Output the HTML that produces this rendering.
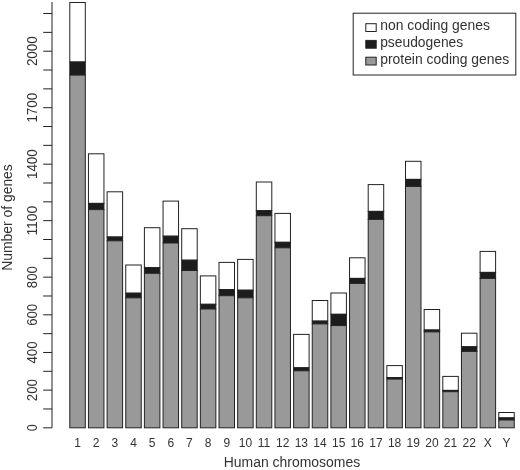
<!DOCTYPE html><html><head><meta charset="utf-8"><title>Genes per chromosome</title><style>html,body{margin:0;padding:0;background:#fff}svg{display:block;will-change:transform;opacity:.999}text{font-family:"Liberation Sans",Arial,Helvetica,sans-serif;fill:#333}</style></head><body>
<svg width="520" height="470" viewBox="0 0 520 470">
<rect width="520" height="470" fill="#fff"/>
<g stroke="#222" stroke-width="1" fill="none">
<line x1="52.0" y1="2.00" x2="52.0" y2="427.80"/>
<line x1="43.2" y1="427.80" x2="52.0" y2="427.80"/>
<line x1="43.2" y1="408.97" x2="52.0" y2="408.97"/>
<line x1="43.2" y1="390.14" x2="52.0" y2="390.14"/>
<line x1="43.2" y1="371.31" x2="52.0" y2="371.31"/>
<line x1="43.2" y1="352.48" x2="52.0" y2="352.48"/>
<line x1="43.2" y1="333.65" x2="52.0" y2="333.65"/>
<line x1="43.2" y1="314.82" x2="52.0" y2="314.82"/>
<line x1="43.2" y1="295.99" x2="52.0" y2="295.99"/>
<line x1="43.2" y1="277.16" x2="52.0" y2="277.16"/>
<line x1="43.2" y1="258.33" x2="52.0" y2="258.33"/>
<line x1="43.2" y1="239.50" x2="52.0" y2="239.50"/>
<line x1="43.2" y1="220.67" x2="52.0" y2="220.67"/>
<line x1="43.2" y1="201.84" x2="52.0" y2="201.84"/>
<line x1="43.2" y1="183.01" x2="52.0" y2="183.01"/>
<line x1="43.2" y1="164.18" x2="52.0" y2="164.18"/>
<line x1="43.2" y1="145.35" x2="52.0" y2="145.35"/>
<line x1="43.2" y1="126.52" x2="52.0" y2="126.52"/>
<line x1="43.2" y1="107.69" x2="52.0" y2="107.69"/>
<line x1="43.2" y1="88.86" x2="52.0" y2="88.86"/>
<line x1="43.2" y1="70.03" x2="52.0" y2="70.03"/>
<line x1="43.2" y1="51.20" x2="52.0" y2="51.20"/>
<line x1="43.2" y1="32.37" x2="52.0" y2="32.37"/>
<line x1="43.2" y1="13.54" x2="52.0" y2="13.54"/>
</g>
<text transform="translate(36.8,427.80) rotate(-90)" x="-3.50" textLength="7.0" lengthAdjust="spacingAndGlyphs" font-size="14">0</text>
<text transform="translate(36.8,390.14) rotate(-90)" x="-11.00" textLength="22.0" lengthAdjust="spacingAndGlyphs" font-size="14">200</text>
<text transform="translate(36.8,352.48) rotate(-90)" x="-11.00" textLength="22.0" lengthAdjust="spacingAndGlyphs" font-size="14">400</text>
<text transform="translate(36.8,314.82) rotate(-90)" x="-11.00" textLength="22.0" lengthAdjust="spacingAndGlyphs" font-size="14">600</text>
<text transform="translate(36.8,277.16) rotate(-90)" x="-11.00" textLength="22.0" lengthAdjust="spacingAndGlyphs" font-size="14">800</text>
<text transform="translate(36.8,220.67) rotate(-90)" x="-14.90" textLength="29.8" lengthAdjust="spacingAndGlyphs" font-size="14">1100</text>
<text transform="translate(36.8,164.18) rotate(-90)" x="-14.90" textLength="29.8" lengthAdjust="spacingAndGlyphs" font-size="14">1400</text>
<text transform="translate(36.8,107.69) rotate(-90)" x="-14.90" textLength="29.8" lengthAdjust="spacingAndGlyphs" font-size="14">1700</text>
<text transform="translate(36.8,51.20) rotate(-90)" x="-14.90" textLength="29.8" lengthAdjust="spacingAndGlyphs" font-size="14">2000</text>
<text transform="translate(12.3,270.8) rotate(-90)" textLength="106.6" lengthAdjust="spacingAndGlyphs" font-size="14">Number of genes</text>
<text x="223.8" y="466.6" textLength="136.4" lengthAdjust="spacingAndGlyphs" font-size="14">Human chromosomes</text>
<g stroke="#222" stroke-width="1">
<rect x="69.80" y="2.50" width="15.50" height="59.50" fill="#fff"/>
<rect x="69.80" y="62.00" width="15.50" height="13.10" fill="#1c1c1c"/>
<rect x="69.80" y="75.10" width="15.50" height="352.70" fill="#999"/>
</g>
<text x="77.55" y="447.2" text-anchor="middle" font-size="12">1</text>
<g stroke="#222" stroke-width="1">
<rect x="88.45" y="153.80" width="15.50" height="49.60" fill="#fff"/>
<rect x="88.45" y="203.40" width="15.50" height="6.20" fill="#1c1c1c"/>
<rect x="88.45" y="209.60" width="15.50" height="218.20" fill="#999"/>
</g>
<text x="96.20" y="447.2" text-anchor="middle" font-size="12">2</text>
<g stroke="#222" stroke-width="1">
<rect x="107.10" y="191.80" width="15.50" height="45.20" fill="#fff"/>
<rect x="107.10" y="237.00" width="15.50" height="3.80" fill="#1c1c1c"/>
<rect x="107.10" y="240.80" width="15.50" height="187.00" fill="#999"/>
</g>
<text x="114.85" y="447.2" text-anchor="middle" font-size="12">3</text>
<g stroke="#222" stroke-width="1">
<rect x="125.75" y="265.00" width="15.50" height="28.20" fill="#fff"/>
<rect x="125.75" y="293.20" width="15.50" height="4.60" fill="#1c1c1c"/>
<rect x="125.75" y="297.80" width="15.50" height="130.00" fill="#999"/>
</g>
<text x="133.50" y="447.2" text-anchor="middle" font-size="12">4</text>
<g stroke="#222" stroke-width="1">
<rect x="144.40" y="227.70" width="15.50" height="40.00" fill="#fff"/>
<rect x="144.40" y="267.70" width="15.50" height="5.60" fill="#1c1c1c"/>
<rect x="144.40" y="273.30" width="15.50" height="154.50" fill="#999"/>
</g>
<text x="152.15" y="447.2" text-anchor="middle" font-size="12">5</text>
<g stroke="#222" stroke-width="1">
<rect x="163.05" y="201.10" width="15.50" height="35.10" fill="#fff"/>
<rect x="163.05" y="236.20" width="15.50" height="6.80" fill="#1c1c1c"/>
<rect x="163.05" y="243.00" width="15.50" height="184.80" fill="#999"/>
</g>
<text x="170.80" y="447.2" text-anchor="middle" font-size="12">6</text>
<g stroke="#222" stroke-width="1">
<rect x="181.70" y="228.70" width="15.50" height="31.50" fill="#fff"/>
<rect x="181.70" y="260.20" width="15.50" height="10.30" fill="#1c1c1c"/>
<rect x="181.70" y="270.50" width="15.50" height="157.30" fill="#999"/>
</g>
<text x="189.45" y="447.2" text-anchor="middle" font-size="12">7</text>
<g stroke="#222" stroke-width="1">
<rect x="200.35" y="275.90" width="15.50" height="28.40" fill="#fff"/>
<rect x="200.35" y="304.30" width="15.50" height="4.70" fill="#1c1c1c"/>
<rect x="200.35" y="309.00" width="15.50" height="118.80" fill="#999"/>
</g>
<text x="208.10" y="447.2" text-anchor="middle" font-size="12">8</text>
<g stroke="#222" stroke-width="1">
<rect x="219.00" y="262.40" width="15.50" height="27.10" fill="#fff"/>
<rect x="219.00" y="289.50" width="15.50" height="6.20" fill="#1c1c1c"/>
<rect x="219.00" y="295.70" width="15.50" height="132.10" fill="#999"/>
</g>
<text x="226.75" y="447.2" text-anchor="middle" font-size="12">9</text>
<g stroke="#222" stroke-width="1">
<rect x="237.65" y="259.40" width="15.50" height="30.80" fill="#fff"/>
<rect x="237.65" y="290.20" width="15.50" height="7.60" fill="#1c1c1c"/>
<rect x="237.65" y="297.80" width="15.50" height="130.00" fill="#999"/>
</g>
<text x="245.40" y="447.2" text-anchor="middle" font-size="12">10</text>
<g stroke="#222" stroke-width="1">
<rect x="256.30" y="182.00" width="15.50" height="28.70" fill="#fff"/>
<rect x="256.30" y="210.70" width="15.50" height="5.00" fill="#1c1c1c"/>
<rect x="256.30" y="215.70" width="15.50" height="212.10" fill="#999"/>
</g>
<text x="264.05" y="447.2" text-anchor="middle" font-size="12">11</text>
<g stroke="#222" stroke-width="1">
<rect x="274.95" y="213.40" width="15.50" height="28.90" fill="#fff"/>
<rect x="274.95" y="242.30" width="15.50" height="5.50" fill="#1c1c1c"/>
<rect x="274.95" y="247.80" width="15.50" height="180.00" fill="#999"/>
</g>
<text x="282.70" y="447.2" text-anchor="middle" font-size="12">12</text>
<g stroke="#222" stroke-width="1">
<rect x="293.60" y="334.40" width="15.50" height="33.40" fill="#fff"/>
<rect x="293.60" y="367.80" width="15.50" height="3.00" fill="#1c1c1c"/>
<rect x="293.60" y="370.80" width="15.50" height="57.00" fill="#999"/>
</g>
<text x="301.35" y="447.2" text-anchor="middle" font-size="12">13</text>
<g stroke="#222" stroke-width="1">
<rect x="312.25" y="300.50" width="15.50" height="20.60" fill="#fff"/>
<rect x="312.25" y="321.10" width="15.50" height="2.80" fill="#1c1c1c"/>
<rect x="312.25" y="323.90" width="15.50" height="103.90" fill="#999"/>
</g>
<text x="320.00" y="447.2" text-anchor="middle" font-size="12">14</text>
<g stroke="#222" stroke-width="1">
<rect x="330.90" y="293.00" width="15.50" height="21.30" fill="#fff"/>
<rect x="330.90" y="314.30" width="15.50" height="11.30" fill="#1c1c1c"/>
<rect x="330.90" y="325.60" width="15.50" height="102.20" fill="#999"/>
</g>
<text x="338.65" y="447.2" text-anchor="middle" font-size="12">15</text>
<g stroke="#222" stroke-width="1">
<rect x="349.55" y="257.80" width="15.50" height="20.60" fill="#fff"/>
<rect x="349.55" y="278.40" width="15.50" height="5.00" fill="#1c1c1c"/>
<rect x="349.55" y="283.40" width="15.50" height="144.40" fill="#999"/>
</g>
<text x="357.30" y="447.2" text-anchor="middle" font-size="12">16</text>
<g stroke="#222" stroke-width="1">
<rect x="368.20" y="184.60" width="15.50" height="26.80" fill="#fff"/>
<rect x="368.20" y="211.40" width="15.50" height="8.00" fill="#1c1c1c"/>
<rect x="368.20" y="219.40" width="15.50" height="208.40" fill="#999"/>
</g>
<text x="375.95" y="447.2" text-anchor="middle" font-size="12">17</text>
<g stroke="#222" stroke-width="1">
<rect x="386.85" y="365.60" width="15.50" height="11.90" fill="#fff"/>
<rect x="386.85" y="377.50" width="15.50" height="1.60" fill="#1c1c1c"/>
<rect x="386.85" y="379.10" width="15.50" height="48.70" fill="#999"/>
</g>
<text x="394.60" y="447.2" text-anchor="middle" font-size="12">18</text>
<g stroke="#222" stroke-width="1">
<rect x="405.50" y="161.30" width="15.50" height="18.10" fill="#fff"/>
<rect x="405.50" y="179.40" width="15.50" height="7.00" fill="#1c1c1c"/>
<rect x="405.50" y="186.40" width="15.50" height="241.40" fill="#999"/>
</g>
<text x="413.25" y="447.2" text-anchor="middle" font-size="12">19</text>
<g stroke="#222" stroke-width="1">
<rect x="424.15" y="309.50" width="15.50" height="20.50" fill="#fff"/>
<rect x="424.15" y="330.00" width="15.50" height="1.90" fill="#1c1c1c"/>
<rect x="424.15" y="331.90" width="15.50" height="95.90" fill="#999"/>
</g>
<text x="431.90" y="447.2" text-anchor="middle" font-size="12">20</text>
<g stroke="#222" stroke-width="1">
<rect x="442.80" y="376.40" width="15.50" height="14.00" fill="#fff"/>
<rect x="442.80" y="390.40" width="15.50" height="1.30" fill="#1c1c1c"/>
<rect x="442.80" y="391.70" width="15.50" height="36.10" fill="#999"/>
</g>
<text x="450.55" y="447.2" text-anchor="middle" font-size="12">21</text>
<g stroke="#222" stroke-width="1">
<rect x="461.45" y="333.20" width="15.50" height="13.60" fill="#fff"/>
<rect x="461.45" y="346.80" width="15.50" height="4.60" fill="#1c1c1c"/>
<rect x="461.45" y="351.40" width="15.50" height="76.40" fill="#999"/>
</g>
<text x="469.20" y="447.2" text-anchor="middle" font-size="12">22</text>
<g stroke="#222" stroke-width="1">
<rect x="480.10" y="251.40" width="15.50" height="21.00" fill="#fff"/>
<rect x="480.10" y="272.40" width="15.50" height="6.00" fill="#1c1c1c"/>
<rect x="480.10" y="278.40" width="15.50" height="149.40" fill="#999"/>
</g>
<text x="487.85" y="447.2" text-anchor="middle" font-size="12">X</text>
<g stroke="#222" stroke-width="1">
<rect x="498.75" y="412.50" width="15.50" height="5.40" fill="#fff"/>
<rect x="498.75" y="417.90" width="15.50" height="2.10" fill="#1c1c1c"/>
<rect x="498.75" y="420.00" width="15.50" height="7.80" fill="#999"/>
</g>
<text x="506.50" y="447.2" text-anchor="middle" font-size="12">Y</text>
<rect x="353.2" y="13.2" width="162.6" height="61.8" fill="#fff" stroke="#222" stroke-width="1"/>
<rect x="365.8" y="23.7" width="10.4" height="7.8" fill="#fff" stroke="#222" stroke-width="1"/>
<text x="380.2" y="30.4" textLength="109.8" lengthAdjust="spacingAndGlyphs" font-size="14">non coding genes</text>
<rect x="365.8" y="40.4" width="10.4" height="7.8" fill="#1c1c1c" stroke="#222" stroke-width="1"/>
<text x="380.2" y="47.0" textLength="83.0" lengthAdjust="spacingAndGlyphs" font-size="14">pseudogenes</text>
<rect x="365.8" y="57.2" width="10.4" height="7.8" fill="#999" stroke="#222" stroke-width="1"/>
<text x="380.2" y="63.8" textLength="129.0" lengthAdjust="spacingAndGlyphs" font-size="14">protein coding genes</text>
</svg></body></html>
